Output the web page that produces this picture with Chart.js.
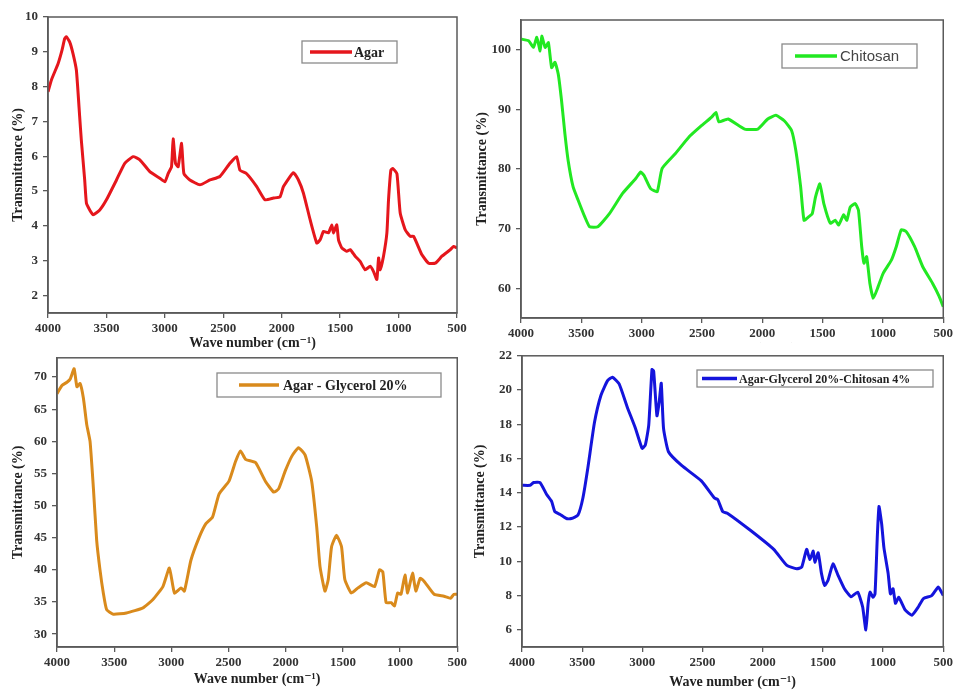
<!DOCTYPE html>
<html><head><meta charset="utf-8">
<script src="https://cdn.jsdelivr.net/npm/chart.js@4.4.0/dist/chart.umd.min.js"></script>
<style>
html,body{margin:0;padding:0;background:#fff;width:956px;height:691px;overflow:hidden;position:relative}
canvas{position:absolute;display:block}
#c4{background:#fff}
</style></head><body>
<canvas id="c1" width="470" height="352" style="left:0;top:0;width:470px;height:352px"></canvas>
<canvas id="c2" width="486" height="358" style="left:470px;top:0;width:486px;height:358px"></canvas>
<canvas id="c3" width="470" height="346" style="left:0;top:345px;width:470px;height:346px"></canvas>
<canvas id="c4" width="486" height="348" style="left:470px;top:343px;width:486px;height:348px"></canvas>
<script>
// ---- data ----
const xTicks = [4000, 3500, 3000, 2500, 2000, 1500, 1000, 500];

const agarLabel = 'Agar';
const agarX = [4000,3970,3914,3880,3857,3843,3814,3786,3757,3729,3715,3686,3671,3643,3614,3557,3500,3414,3343,3271,3214,3129,3043,3000,2971,2943,2929,2909,2886,2857,2837,2786,2700,2614,2529,2443,2386,2357,2300,2214,2143,2071,2014,1985,1900,1857,1814,1757,1700,1671,1643,1600,1571,1557,1529,1514,1486,1443,1414,1371,1329,1286,1243,1214,1186,1171,1157,1129,1100,1086,1066,1049,1014,986,943,900,871,800,743,686,629,557,529,500];
const agarY = [7.85,8.2,8.66,9.05,9.38,9.43,9.28,8.95,8.47,7.14,6.47,5.32,4.65,4.46,4.32,4.46,4.75,5.32,5.8,5.99,5.9,5.56,5.37,5.27,5.51,5.7,6.5,5.8,5.7,6.37,5.5,5.32,5.18,5.32,5.42,5.8,5.99,5.6,5.5,5.13,4.75,4.8,4.84,5.13,5.53,5.32,4.94,4.18,3.51,3.6,3.84,3.8,4.03,3.8,4.03,3.6,3.37,3.27,3.32,3.13,2.98,2.74,2.84,2.69,2.46,3.08,2.74,3.13,3.8,4.75,5.6,5.65,5.5,4.37,3.89,3.7,3.7,3.17,2.93,2.93,3.13,3.32,3.41,3.37];
const agarYTicks = [2,3,4,5,6,7,8,9,10];

const chitosanLabel = 'Chitosan';
const chitosanX = [4000,3937,3896,3869,3841,3828,3800,3773,3746,3718,3691,3664,3636,3609,3568,3527,3472,3431,3363,3267,3158,3049,3008,2980,2926,2871,2830,2720,2611,2502,2420,2384,2360,2283,2146,2037,1955,1887,1818,1758,1722,1682,1654,1614,1586,1559,1523,1490,1436,1395,1367,1326,1299,1271,1230,1203,1176,1157,1135,1108,1080,1039,998,930,889,848,807,738,670,588,533,500];
const chitosanY = [101.8,101.5,100.4,102.1,99.8,102.3,100.4,101.2,97,97.9,95.9,91.5,85.9,81.4,77,74.8,72,70.3,70.3,72.5,75.9,78.4,79.5,78.9,76.7,76.2,80.1,82.6,85.3,87.3,88.7,89.5,87.9,88.4,86.7,86.7,88.4,89,88.1,86.5,83.1,77,71.4,72,72.5,75.3,77.5,74.2,70.9,71.4,70.6,72.3,71.4,73.6,74.2,73.1,67,64.2,65.3,60.8,58.3,60.3,62.5,64.7,67,69.8,69.5,67,63.6,60.8,58.6,56.9];
const chitosanYTicks = [60,70,80,90,100];

const glyLabel = 'Agar - Glycerol 20%';
const glyX = [4000,3957,3913,3884,3850,3826,3798,3769,3740,3711,3682,3653,3624,3595,3566,3508,3393,3248,3161,3074,3017,2973,2915,2886,2829,2756,2698,2640,2583,2496,2438,2395,2351,2264,2178,2105,2062,2004,1946,1888,1831,1773,1729,1700,1657,1628,1599,1556,1512,1483,1426,1368,1295,1223,1180,1151,1122,1078,1049,1021,992,957,934,891,862,824,789,702,616,558,529,500];
const glyY = [67.4,68.7,69.2,69.7,71.3,68.5,69,66.7,62.6,60,52.8,44.6,40,36.4,33.8,33.1,33.3,34.1,35.4,37.4,40.3,36.4,37.2,36.7,41.5,45.1,47.2,48.2,51.8,53.8,56.9,58.5,57.2,56.7,53.8,52.1,52.6,55.4,57.7,59,57.9,53.8,46.7,40.5,36.7,38.5,43.6,45.4,43.6,38.5,36.4,37.2,38,37.4,40,39.7,34.9,34.9,34.4,36.4,36.2,39.2,36.4,39.5,36.7,38.7,38.2,36.2,35.9,35.6,36.2,36.2];
const glyYTicks = [30,35,40,45,50,55,60,65,70];

const mixLabel = 'Agar-Glycerol 20%-Chitosan 4%';
const mixX = [4000,3932,3904,3850,3795,3754,3727,3686,3631,3590,3535,3494,3453,3398,3344,3289,3248,3193,3125,3057,3002,2975,2947,2920,2906,2879,2860,2843,2824,2783,2674,2510,2401,2373,2332,2291,2100,1908,1799,1717,1676,1635,1608,1580,1567,1539,1512,1485,1457,1416,1375,1321,1266,1211,1170,1143,1124,1108,1083,1067,1047,1034,1012,993,958,939,917,897,870,815,761,706,665,596,541,500];
const mixY = [14.44,14.44,14.6,14.6,13.9,13.5,12.9,12.75,12.5,12.5,12.7,13.7,15.45,18.1,19.7,20.55,20.75,20.36,19,17.76,16.6,16.8,17.95,21.2,21.1,18.5,19.3,20.4,17.76,16.4,15.6,14.7,13.7,13.6,12.9,12.8,11.8,10.7,9.76,9.57,9.66,10.7,10.1,10.6,9.95,10.5,9.3,8.6,8.9,9.86,9.2,8.4,7.93,8.2,7.35,6.0,7.55,8.2,7.9,8.1,11.6,13.2,12.2,10.8,9.3,8.1,8.4,7.55,7.9,7.15,6.85,7.35,7.83,8.0,8.5,8.0];
const mixYTicks = [6,8,10,12,14,16,18,20,22];

// ---- helpers ----
const SERIF = '"Liberation Serif", "DejaVu Serif", serif';
const SANS = '"Liberation Sans", Arial, sans-serif';
const AXIS = '#5a5a5a';

const framePlugin = {
  id: 'frame',
  afterDraw(chart) {
    const a = chart.chartArea, ctx = chart.ctx;
    ctx.save();
    ctx.strokeStyle = AXIS; ctx.lineWidth = 1.5;
    ctx.strokeRect(a.left, a.top, a.right - a.left, a.bottom - a.top);
    ctx.restore();
  }
};
const boxLegendPlugin = {
  id: 'boxLegend',
  afterDraw(chart, args, o) {
    const ctx = chart.ctx, ds = chart.data.datasets[0];
    ctx.save();
    ctx.fillStyle = '#fff';
    ctx.fillRect(o.x, o.y, o.w, o.h);
    ctx.strokeStyle = '#8a8a8a'; ctx.lineWidth = 1.3;
    ctx.strokeRect(o.x, o.y, o.w, o.h);
    const cy = o.y + o.h / 2;
    ctx.strokeStyle = ds.borderColor; ctx.lineWidth = 3.5;
    ctx.beginPath(); ctx.moveTo(o.lx1, cy); ctx.lineTo(o.lx2, cy); ctx.stroke();
    ctx.fillStyle = o.color; ctx.font = o.font;
    ctx.textBaseline = 'middle'; ctx.textAlign = 'left';
    ctx.fillText(ds.label, o.tx, cy + 1);
    ctx.restore();
  }
};

function makeChart(id, c) {
  const tickFont = {family: SERIF, size: 13, weight: 'bold'};
  const titleFont = {family: SERIF, size: 14, weight: 'bold'};
  return new Chart(document.getElementById(id), {
    type: 'line',
    data: {datasets: [{
      label: c.label,
      data: c.xs.map((x, i) => ({x: x, y: c.ys[i]})),
      borderColor: c.color, borderWidth: 3, pointRadius: 0, tension: 0.15, fill: false
    }]},
    options: {
      responsive: false, animation: false, devicePixelRatio: 1,
      layout: {padding: {top: c.padTop, right: c.padRight, left: 0, bottom: 0}},
      plugins: {legend: {display: false}, tooltip: {enabled: false}, boxLegend: c.legend},
      scales: {
        x: {
          type: 'linear', reverse: true, min: 500, max: 4000,
          afterBuildTicks: s => { s.ticks = xTicks.map(v => ({value: v})); },
          afterFit: s => { s.height = c.xH; },
          ticks: {font: tickFont, color: '#333', padding: 3, maxRotation: 0, autoSkip: false, callback: v => String(v)},
          grid: {drawOnChartArea: false, tickLength: 5, color: AXIS, lineWidth: 1.3},
          border: {color: AXIS, width: 1.5},
          title: {display: true, text: 'Wave number (cm⁻¹)', font: titleFont, color: '#222', padding: {top: 0, bottom: c.xTitlePad}}
        },
        y: {
          type: 'linear', min: c.ymin, max: c.ymax,
          afterBuildTicks: s => { s.ticks = c.yTicks.map(v => ({value: v})); },
          afterFit: s => { s.width = c.yW; },
          ticks: {font: tickFont, color: '#333', padding: 5, autoSkip: false, callback: v => String(v)},
          grid: {drawOnChartArea: false, tickLength: 5, color: AXIS, lineWidth: 1.3},
          border: {color: AXIS, width: 1.5},
          title: {display: true, text: 'Transmittance (%)', font: titleFont, color: '#222', padding: {top: c.yTitlePad, bottom: 0}}
        }
      }
    },
    plugins: [framePlugin, boxLegendPlugin]
  });
}

makeChart('c1', {
  label: agarLabel, xs: agarX, ys: agarY, yTicks: agarYTicks, color: '#e5161c',
  ymin: 1.5, ymax: 10, padTop: 17, padRight: 13, yW: 48, xH: 39, xTitlePad: 0, yTitlePad: 10,
  legend: {x: 302, y: 41, w: 95, h: 22, lx1: 310, lx2: 352, tx: 354, font: 'bold 14px ' + SERIF, color: '#222'}
});
makeChart('c2', {
  label: chitosanLabel, xs: chitosanX, ys: chitosanY, yTicks: chitosanYTicks, color: '#22e822',
  ymin: 55, ymax: 105, padTop: 20, padRight: 9, yW: 51, xH: 40, xTitlePad: 0, yTitlePad: 4,
  legend: {x: 312, y: 44, w: 135, h: 24, lx1: 325, lx2: 367, tx: 370, font: '15px ' + SANS, color: '#444'}
});
makeChart('c3', {
  label: glyLabel, xs: glyX, ys: glyY, yTicks: glyYTicks, color: '#d98a1c',
  ymin: 28, ymax: 73, padTop: 11, padRight: 10, yW: 57, xH: 44, xTitlePad: 3, yTitlePad: 10,
  legend: {x: 217, y: 28, w: 224, h: 24, lx1: 239, lx2: 279, tx: 283, font: 'bold 14px ' + SERIF, color: '#222'}
});
makeChart('c4', {
  label: mixLabel, xs: mixX, ys: mixY, yTicks: mixYTicks, color: '#1414dc',
  ymin: 5, ymax: 22, padTop: 10, padRight: 8, yW: 52, xH: 44, xTitlePad: 0, yTitlePad: 2,
  legend: {x: 227, y: 27, w: 236, h: 17, lx1: 232, lx2: 267, tx: 269, font: 'bold 12px ' + SERIF, color: '#222'}
});
</script>
</body></html>
